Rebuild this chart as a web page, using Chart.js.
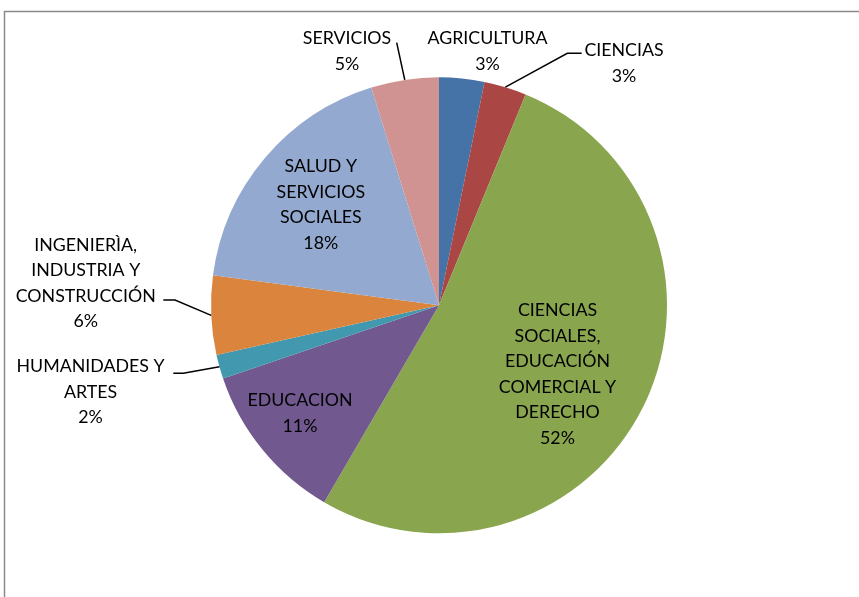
<!DOCTYPE html>
<html>
<head>
<meta charset="utf-8">
<script src="https://cdn.jsdelivr.net/npm/chart.js@4"></script>
<style>
  html, body { margin: 0; padding: 0; background: #fff; }
  #c { display: block; }
</style>
</head>
<body>
<canvas id="c" width="859" height="597"></canvas>
<script>
// ---- data ----
const categories = [
  'AGRICULTURA',
  'CIENCIAS',
  'CIENCIAS SOCIALES, EDUCACIÓN COMERCIAL Y DERECHO',
  'EDUCACION',
  'HUMANIDADES Y ARTES',
  'INGENIERÌA, INDUSTRIA Y CONSTRUCCIÓN',
  'SALUD Y SERVICIOS SOCIALES',
  'SERVICIOS'
];
const shares = [3.2, 3.0, 52.2, 11.4, 1.7, 5.6, 18.1, 4.8];
// how each category label is broken into lines
const labelLines = [
  ['AGRICULTURA'],
  ['CIENCIAS'],
  ['CIENCIAS', 'SOCIALES,', 'EDUCACIÓN', 'COMERCIAL Y', 'DERECHO'],
  ['EDUCACION'],
  ['HUMANIDADES Y', 'ARTES'],
  ['INGENIERÌA,', 'INDUSTRIA Y', 'CONSTRUCCIÓN'],
  ['SALUD Y', 'SERVICIOS', 'SOCIALES'],
  ['SERVICIOS']
];
const colors = ['#4572A7', '#AA4643', '#89A54E', '#71588F', '#4198AF', '#DB843D', '#93A9CF', '#D19392'];

// ---- label layout (relative to pie centre, px) ----
const labelLayout = [
  { t: [48.5, -267] },
  { t: [185, -254.6], lead: [[142.7, -252], [128.3, -252]] },
  { t: [118.5, 5.4] },
  { t: [-139, 95.4] },
  { t: [-348.5, 61.4], lead: [[-265.7, 68], [-255.7, 68]] },
  { t: [-353.3, -60.3], lead: [[-275.7, -5.3], [-264, -5.3]] },
  { t: [-118.2, -138.6] },
  { t: [-92, -267], lead: [[-42.3, -262.6]] }
];
const LINE_H = 25.5;
const FONT = '17.8px Lato, "Open Sans", sans-serif';

const framePlugin = {
  id: 'frame',
  beforeDraw(chart) {
    const ctx = chart.ctx;
    ctx.save();
    ctx.fillStyle = '#fff';
    ctx.fillRect(0, 0, chart.width, chart.height);
    ctx.strokeStyle = '#8a8a8a';
    ctx.lineWidth = 1.5;
    ctx.strokeRect(4.5, 11.5, 1000, 1000);
    ctx.restore();
  }
};

const labelPlugin = {
  id: 'sliceLabels',
  afterDatasetsDraw(chart) {
    const ctx = chart.ctx;
    const meta = chart.getDatasetMeta(0);
    const total = shares.reduce((a, b) => a + b, 0);
    ctx.save();
    ctx.font = FONT;
    ctx.fillStyle = '#000';
    ctx.textAlign = 'center';
    ctx.textBaseline = 'middle';
    meta.data.forEach((arc, i) => {
      const cx = arc.x, cy = arc.y;
      const lay = labelLayout[i];
      const lines = labelLines[i].concat([Math.round(shares[i] / total * 100) + '%']);
      lines.forEach((ln, k) => {
        ctx.fillText(ln, cx + lay.t[0], cy + lay.t[1] + k * LINE_H);
      });
      if (lay.lead) {
        const mid = (arc.startAngle + arc.endAngle) / 2;
        const ex = cx + Math.cos(mid) * arc.outerRadius;
        const ey = cy + Math.sin(mid) * arc.outerRadius;
        ctx.beginPath();
        ctx.strokeStyle = '#000';
        ctx.lineWidth = 1.5;
        ctx.moveTo(cx + lay.lead[0][0], cy + lay.lead[0][1]);
        for (let k = 1; k < lay.lead.length; k++) ctx.lineTo(cx + lay.lead[k][0], cy + lay.lead[k][1]);
        ctx.lineTo(ex, ey);
        ctx.stroke();
      }
    });
    ctx.restore();
  }
};

new Chart(document.getElementById('c'), {
  type: 'pie',
  data: {
    labels: categories,
    datasets: [{
      data: shares,
      backgroundColor: colors,
      borderWidth: 0
    }]
  },
  options: {
    responsive: false,
    animation: false,
    layout: { padding: { top: 77.3, bottom: 63.7, left: 100, right: 81 } },
    plugins: { legend: { display: false }, tooltip: { enabled: false } }
  },
  plugins: [framePlugin, labelPlugin]
});
</script>
</body>
</html>
